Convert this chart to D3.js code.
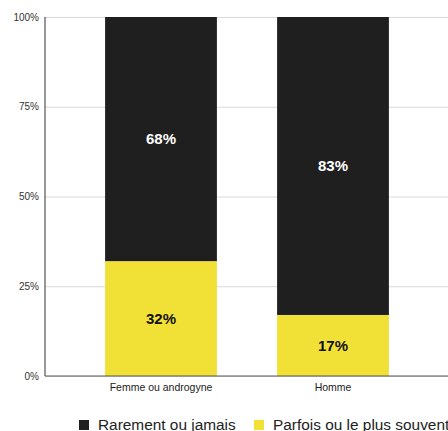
<!DOCTYPE html>
<html>
<head>
<meta charset="utf-8">
<script src="https://cdn.jsdelivr.net/npm/d3@7"></script>
<style>
  body { margin: 0; background: #fff; }
  svg { display: block; font-family: "Liberation Sans", Arial, sans-serif; }
</style>
</head>
<body>
<div class="chart"></div>
<script>
var categories = ["Femme ou androgyne", "Homme"];
var seriesNames = ["Parfois ou le plus souvent", "Rarement ou jamais"];
var parfois = [0.32, 0.17];
var rarement = [0.68, 0.83];
var tickValues = [0, 0.25, 0.5, 0.75, 1];

var w = 448,
    h = 431;

var colors = { "Rarement ou jamais": "#1f1f1f", "Parfois ou le plus souvent": "#f1e036" };

var rows = categories.map(function (c, i) {
  return { cat: c, "Parfois ou le plus souvent": parfois[i], "Rarement ou jamais": rarement[i] };
});

var stacked = d3.stack().keys(seriesNames)(rows);

var x = d3.scaleBand()
  .domain(categories)
  .range([75, 419])
  .paddingInner(0.35)
  .paddingOuter(0.175);

var y = d3.scaleLinear()
  .domain([0, 1])
  .range([376, 17]);

var svg = d3.select(".chart")
  .append("svg")
  .attr("width", w)
  .attr("height", h);

// gridlines + y labels
var yAxis = d3.axisLeft(y)
  .tickValues(tickValues)
  .tickFormat(d3.format(".0%"))
  .tickSize(-(w - 45))
  .tickPadding(6);

var gy = svg.append("g")
  .attr("transform", "translate(45,0)")
  .call(yAxis);
gy.select(".domain").remove();
gy.selectAll(".tick line").attr("stroke", "#d9d9d9");
gy.selectAll(".tick text")
  .attr("fill", "#333")
  .style("font-size", "10px");

// bars
svg.append("g")
  .selectAll("g")
  .data(stacked)
  .enter()
    .append("g")
    .attr("fill", function (d) { return colors[d.key]; })
    .selectAll("rect")
    .data(function (d) { return d; })
    .enter()
      .append("rect")
      .attr("x", function (d) { return x(d.data.cat); })
      .attr("width", x.bandwidth())
      .attr("y", function (d) { return y(d[1]); })
      .attr("height", function (d) { return y(d[0]) - y(d[1]); });

// value labels
svg.append("g")
  .selectAll("g")
  .data(stacked)
  .enter()
    .append("g")
    .attr("fill", function (d) { return d.key === "Rarement ou jamais" ? "#fff" : "#111"; })
    .selectAll("text")
    .data(function (d) { return d; })
    .enter()
      .append("text")
      .attr("x", function (d) { return x(d.data.cat) + x.bandwidth() / 2; })
      .attr("y", function (d) { return (y(d[0]) + y(d[1])) / 2; })
      .attr("dy", "0.35em")
      .attr("text-anchor", "middle")
      .style("font-size", "15px")
      .style("font-weight", "bold")
      .text(function (d) { return Math.round((d[1] - d[0]) * 100) + "%"; });

// axes lines
svg.append("line")
  .attr("x1", 45).attr("x2", 45)
  .attr("y1", y(1)).attr("y2", y(0))
  .attr("stroke", "#333");

var xAxis = d3.axisBottom(x).tickSize(0).tickPadding(8);
var gx = svg.append("g")
  .attr("transform", "translate(0," + y(0) + ")")
  .call(xAxis);
gx.select(".domain").remove();
gx.selectAll(".tick text")
  .attr("fill", "#222")
  .style("font-size", "10.5px");
svg.append("line")
  .attr("x1", 45).attr("x2", w)
  .attr("y1", y(0)).attr("y2", y(0))
  .attr("stroke", "#555");

// legend
var legendItems = [
  { name: "Rarement ou jamais", x: 79 },
  { name: "Parfois ou le plus souvent", x: 254 }
];
var lg = svg.append("g")
  .selectAll("g")
  .data(legendItems)
  .enter()
    .append("g")
    .attr("transform", function (d) { return "translate(" + d.x + ",419)"; });
lg.append("rect")
  .attr("width", 10)
  .attr("height", 10)
  .attr("y", 1)
  .attr("fill", function (d) { return colors[d.name]; });
lg.append("text")
  .attr("x", 19)
  .attr("y", 11)
  .attr("fill", "#222")
  .style("font-size", "15.4px")
  .text(function (d) { return d.name; });
</script>
</body>
</html>
